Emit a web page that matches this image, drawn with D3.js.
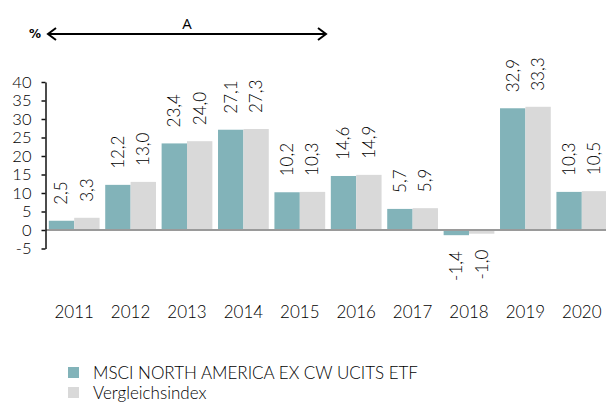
<!DOCTYPE html>
<html>
<head>
<meta charset="utf-8">
<script src="https://cdn.jsdelivr.net/npm/d3@7"></script>
<style>
  body { margin: 0; background: #fff; }
  svg { display: block; font-family: Lato, "Open Sans", sans-serif; font-weight: 300; }
</style>
</head>
<body>
<svg id="chart" width="606" height="403"></svg>
<script>
const years = ['2011', '2012', '2013', '2014', '2015', '2016', '2017', '2018', '2019', '2020'];
const etfValues = [2.5, 12.2, 23.4, 27.1, 10.2, 14.6, 5.7, -1.4, 32.9, 10.3];
const indexValues = [3.3, 13.0, 24.0, 27.3, 10.3, 14.9, 5.9, -1.0, 33.3, 10.5];
const yTicks = [-5, 0, 5, 10, 15, 20, 25, 30, 35, 40];
const seriesNames = ['MSCI NORTH AMERICA EX CW UCITS ETF', 'Vergleichsindex'];
const colors = ['#82b3b9', '#d9d9d9'];

const svg = d3.select('#chart');

const y = d3.scaleLinear().domain([-5, 40]).range([248.5, 82]);
const x = d3.scaleBand().domain(years).range([46, 610]).paddingInner(0.1).paddingOuter(0.05);
const sub = d3.scaleBand().domain([0, 1]).range([0, x.bandwidth()]);

const fmt = v => d3.format('.1f')(v).replace('.', ',').replace('\u2212', '-');

// bars
const groups = svg.append('g').selectAll('g')
    .data(years)
    .enter()
    .append('g')
    .attr('transform', d => `translate(${x(d)},0)`);

groups.selectAll('rect')
    .data((d, i) => [etfValues[i], indexValues[i]])
    .enter()
    .append('rect')
    .attr('x', (d, j) => sub(j))
    .attr('width', sub.bandwidth())
    .attr('y', d => y(Math.max(0, d)))
    .attr('height', d => Math.abs(y(d) - y(0)))
    .attr('fill', (d, j) => colors[j]);

// value labels
groups.selectAll('text')
    .data((d, i) => [etfValues[i], indexValues[i]])
    .enter()
    .append('text')
    .attr('transform', (d, j) => {
        const cx = sub(j) + sub.bandwidth() / 2;
        const cy = d >= 0 ? y(d) - 16 : y(d) + 16;
        return `translate(${cx},${cy}) rotate(-90)`;
    })
    .attr('dy', '0.35em')
    .attr('text-anchor', d => d >= 0 ? 'start' : 'end')
    .attr('font-size', 17)
    .attr('fill', '#000')
    .text(d => fmt(d));

// zero line
svg.append('line')
    .attr('x1', 46).attr('x2', 606)
    .attr('y1', y(0)).attr('y2', y(0))
    .attr('stroke', '#9a9a9a')
    .attr('stroke-width', 2);

// y axis
const yAxis = svg.append('g')
    .attr('transform', 'translate(45.5,0)')
    .call(d3.axisLeft(y).tickValues(yTicks).tickSize(4).tickPadding(10).tickSizeOuter(0))
    .attr('font-family', null)
    .attr('font-size', null);
yAxis.select('.domain').attr('stroke', '#111').attr('stroke-width', 1.5);
yAxis.selectAll('.tick line').attr('stroke', '#111').attr('stroke-width', 1.5);
yAxis.selectAll('.tick text')
    .attr('font-size', 16.5)
    .attr('fill', '#000')
    .text(d => d);

// year labels
svg.append('g').selectAll('text')
    .data(years)
    .enter()
    .append('text')
    .attr('x', d => x(d) + x.bandwidth() / 2)
    .attr('y', 318)
    .attr('text-anchor', 'middle')
    .attr('font-size', 17)
    .attr('fill', '#000')
    .text(d => d);

// top annotation
svg.append('text')
    .attr('x', 29).attr('y', 38)
    .attr('font-size', 12)
    .attr('font-weight', 'bold')
    .attr('font-family', 'DejaVu Sans, sans-serif')
    .text('%');

svg.append('line')
    .attr('x1', 48).attr('x2', 326)
    .attr('y1', 34).attr('y2', 34)
    .attr('stroke', '#000').attr('stroke-width', 2);
svg.append('path')
    .attr('d', 'M56,28 L48,34 L56,40 M318,28 L326,34 L318,40')
    .attr('fill', 'none').attr('stroke', '#000').attr('stroke-width', 2);
svg.append('text')
    .attr('x', 187).attr('y', 29)
    .attr('text-anchor', 'middle')
    .attr('font-size', 15)
    .attr('font-weight', 'normal')
    .attr('font-family', 'Open Sans, sans-serif')
    .text('A');

// legend
const legend = svg.append('g').selectAll('g')
    .data(seriesNames)
    .enter()
    .append('g')
    .attr('transform', (d, i) => `translate(68,${367 + i * 20})`);
legend.append('rect')
    .attr('width', 11).attr('height', 11)
    .attr('fill', (d, i) => colors[i]);
legend.append('text')
    .attr('x', 25).attr('y', 12)
    .attr('font-size', 17)
    .attr('fill', '#000')
    .text(d => d);
</script>
</body>
</html>
